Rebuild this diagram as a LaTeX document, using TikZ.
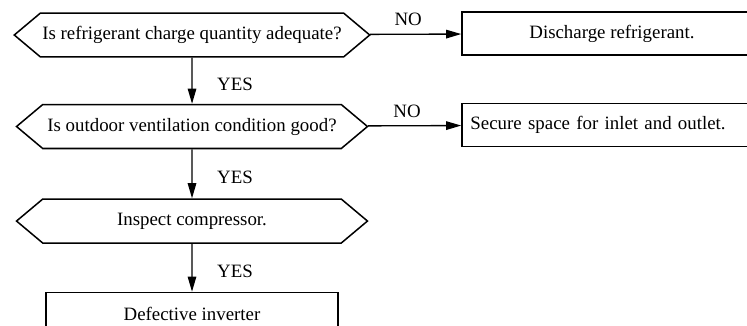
\documentclass[tikz,border=0pt]{standalone}
\usepackage{fontspec}
\setmainfont{Liberation Serif}
\usepackage{tikz}
\usetikzlibrary{shapes.symbols,arrows.meta,positioning}

\begin{document}
\begin{tikzpicture}[
    x=0.53pt, y=-0.53pt,
    node distance=25pt and 50pt,
    decision/.style={signal, signal to=west and east, signal pointer angle=80, draw, line width=0.8pt, minimum width=186pt, minimum height=23.3pt, inner sep=1pt, font=\normalsize},
    action/.style={rectangle, draw, line width=0.8pt, minimum width=159pt, minimum height=22.8pt, font=\normalsize},
    arrow/.style={-{Triangle[length=8pt, width=4.5pt]}, line width=0.7pt},
    answer/.style={font=\normalsize, inner sep=1pt},
]
\clip (0,0) rectangle (747,325);

% === MAIN CHAIN ===
\node[decision] (charge) at (192,35) {Is refrigerant charge quantity adequate?};
\node[decision, below=24.4pt of charge] (vent) {Is outdoor ventilation condition good?};
\node[decision, below=26pt of vent] (comp) {Inspect compressor.};
\node[action, minimum width=155pt, below=25.4pt of comp] (inverter) {Defective inverter};

% === NO BRANCHES ===
\node[action] (discharge) at (612,33.5) {Discharge refrigerant.};
\node[action, text width=150pt, align=left, inner xsep=4pt] (space) at (612,125) {Secure space for inlet and outlet.};

\draw[arrow] (charge) -- (vent) node[answer, midway, right=12pt, yshift=-2pt] (yes1) {YES};
\draw[arrow] (vent) -- (comp) node[answer, midway, right=12pt, yshift=-2pt] (yes2) {YES};
\draw[arrow] (comp) -- (inverter) node[answer, midway, right=12pt, yshift=-2pt] (yes3) {YES};

\draw[arrow] (charge) -- (discharge) node[answer, midway, above=3pt, xshift=-4pt] (no1) {NO};
\draw[arrow] (vent) -- (space) node[answer, midway, above=3pt, xshift=-4pt] (no2) {NO};

\end{tikzpicture}
\end{document}
